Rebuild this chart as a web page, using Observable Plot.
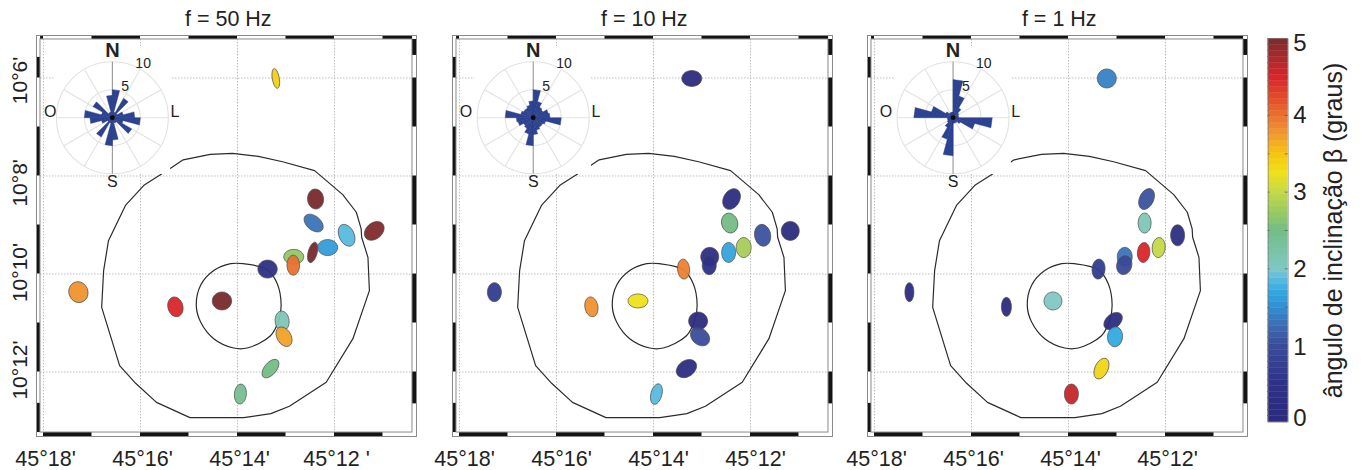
<!DOCTYPE html>
<html><head><meta charset="utf-8">
<script src="https://cdn.jsdelivr.net/npm/d3@7"></script>
<script src="https://cdn.jsdelivr.net/npm/@observablehq/plot@0.6"></script>
<style>
html,body{margin:0;padding:0;background:#fff}
#chart{position:relative;width:1363px;height:470px;overflow:hidden}
#chart svg{position:absolute;top:0;overflow:visible;background:transparent}
</style></head><body><div id="chart"></div>
<script>
// Stations: minutes of longitude W (45°xx') and latitude S (10°xx')
const stationLon=[13.21,12.39,12.43,11.75,11.18,12.45,12.14,12.84,12.85,13.38,13.08,13.04,13.32,13.94,14.32,15.28,17.28];
const stationLat=[6.01,8.47,8.96,9.21,9.12,9.56,9.46,9.65,9.82,9.90,10.96,11.28,11.93,12.45,10.55,10.67,10.37];

// Per-frequency results, same order as the stations
const beta50=[3.4,5,1.3,1.85,4.95,5,1.6,2.7,4.0,0.4,2.1,3.7,2.5,2.4,5,4.5,3.8];
const major50=[10,10,11,11.5,11,10.5,10,10,10,9.7,10,10.5,11,10,9.7,10,10.5];
const minor50=[3.5,8,7,7.5,8,4.5,8,7.5,6.3,9,7,7,6,6,9,7.5,9.5];
const azim50=[-10,-5,-50,-25,50,15,90,90,0,90,-5,-30,40,5,90,-15,-20];

const beta10=[0.1,0.2,2.5,1.05,0.1,1.65,2.8,0.25,0.5,3.9,0.15,1.0,0.2,1.85,3.25,3.8,0.7];
const major10=[10,11,10,11,9.5,10,10,9.5,9.5,10,9.5,10.5,11,10.5,10,10,9.5];
const minor10=[8,8,8,8,9,7,7.5,9,7,6,9,8,8,5.5,7,6.5,7];
const azim10=[90,30,-15,-10,0,0,0,0,0,-5,90,-50,55,15,90,-10,0];

const beta1=[1.4,1.05,2.1,0.3,null,4.5,3.0,1.3,0.95,0.7,0.1,1.7,3.35,4.6,2.0,0.15,0.1];
const major1=[9.5,11,10,10.5,10,10,10,9.5,9.5,10,10.5,10,11,10,9,9.5,9.5];
const minor1=[9.5,7,6.5,7,7,6.2,6.5,7.5,7.5,6.5,7,7.5,6.5,7,9,5,4.5];
const azim1=[0,25,0,0,0,5,5,0,15,5,50,5,25,0,0,0,0];

// Rose bins: start azimuth (15° wide), axial, mirrored at +180°
const roseAzimuth=[0,15,30,45,60,75,90,105,120,135,150,165];
const rose50=[5,1,4,1,2,4,5,2,4,1,1,4];
const rose10=[5,3,2.2,2,2.8,3,5,2.3,2,2,2.3,3];
const rose1=[6.8,4,2,1.2,1,1,7,4,1.5,1,1,1];

// Outlines of the structure (lon, lat in minutes)
const outerLon=[15.38,15.12,14.56,14.10,13.57,13.07,12.41,11.83,11.55,11.45,11.44,11.31,11.28,11.62,12.17,12.93,13.31,13.87,14.98,15.67,16.10,16.43,16.80,16.76,16.66,16.31,15.93,15.63,15.38];
const outerLat=[7.84,7.67,7.56,7.54,7.60,7.71,7.89,8.38,8.74,9.08,9.25,9.66,10.34,11.32,12.21,12.70,12.85,12.93,12.93,12.62,12.23,11.87,10.68,9.93,9.32,8.60,8.19,8.00,7.84];
const innerLon=[14.14,13.88,13.39,13.18,13.10,13.15,13.32,13.80,14.08,14.49,14.76,14.85,14.76,14.49];
const innerLat=[9.79,9.79,9.91,10.20,10.64,10.95,11.26,11.51,11.51,11.32,10.98,10.64,10.23,9.93];

// Map ticks and frame
const lonTicks=[18,16,14,12];
const latTicks=[6,8,10,12];
const latLabels=["10°6'","10°8'","10°10'","10°12'"];
const latLabelAt=[6.05,8.14,9.97,11.96];
const topBars=[[18.06,18],[17,16],[15,14],[13,12],[11,10.39]];
const bottomBars=[[18,17],[16,15],[14,13],[12,11]];
const leftBars=[[5.58,6],[7,8],[9,10],[11,12],[12.64,13.235]];
const rightBars=[[5.214,5.54],[6,7],[8,9],[10,11],[12,12.65]];

// Colour bar
const betaStops=[0,0.5,1,1.25,1.5,1.7,1.9,2,2.5,2.75,3,3.25,3.5,3.75,4,4.25,4.5,4.75,5];
const betaColors=["#2b2a7e","#2e3286","#3b4c9b","#3b6db2","#3290d2","#34a9e1","#66bfdd","#7fc8c2","#74bd85","#9ccb5e","#c5d947","#eee11a","#f6c40f","#f09a30","#e9712d","#e2492a","#d9252a","#a82a2c","#782a2d"];
const betaTicks=[0,1,2,3,4,5];
const betaTickAt=[0.05,0.98,2,3,4,4.94];

const panels=[
 {offset:0,title:"f = 50 Hz",beta:beta50,major:major50,minor:minor50,azim:azim50,rose:rose50,roseLon:16.58,westGap:-11.1,lastLabel:"45°12 '"},
 {offset:416,title:"f = 10 Hz",beta:beta10,major:major10,minor:minor10,azim:azim10,rose:rose10,roseLon:16.48,westGap:-12,lastLabel:"45°12'"},
 {offset:831,title:"f = 1 Hz",beta:beta1,major:major1,minor:minor1,azim:azim1,rose:rose1,roseLon:16.38,westGap:-12,lastLabel:"45°12'"}
];

const INK="#222", FONT="Liberation Sans, Arial, sans-serif";
const colorScale={type:"linear",domain:betaStops,range:betaColors};
const xDom=[18.144,10.309], yDom=[13.316,5.133];
const roseLat=6.81, uLon=5.6/48.5, uLat=5.6/49;

function ellipseSymbol(ratio){
  return {draw(c,size){
    const ry=Math.sqrt(size/Math.PI), rx=ry*ratio, k=0.5523;
    c.moveTo(rx,0);
    c.bezierCurveTo(rx,k*ry,k*rx,ry,0,ry);
    c.bezierCurveTo(-k*rx,ry,-rx,k*ry,-rx,0);
    c.bezierCurveTo(-rx,-k*ry,-k*rx,-ry,0,-ry);
    c.bezierCurveTo(k*rx,-ry,rx,-k*ry,rx,0);
    c.closePath();
  }};
}
const path=(lon,lat)=>lon.map((v,i)=>({lon:v,lat:lat[i]}));

function panelPlot(p,idx){
  const at=(az,len)=>({lon:p.roseLon-len*uLon*Math.sin(az*Math.PI/180),lat:roseLat-len*uLat*Math.cos(az*Math.PI/180)});
  const wedges=[];
  p.rose.forEach((v,i)=>[0,180].forEach(shift=>{
    const a=roseAzimuth[i]+shift,id=a;
    wedges.push({id,...at(a,0)},{id,...at(a,v)},{id,...at(a+15,v)},{id,...at(a,0)});
  }));
  const spokes=d3.range(0,360,30).filter(a=>a%180!==0).map(a=>({a,...at(a,10)}));
  const center=[{lon:p.roseLon,lat:roseLat}];
  const roseText=[
    {t:"N",...at(0,12),fs:20,w:"bold"},
    {t:"S",...at(180,11.5),fs:16,w:"normal"},
    {t:"O",lon:p.roseLon-p.westGap*uLon,lat:roseLat-1.1*uLat,fs:16,w:"normal"},
    {t:"L",lon:p.roseLon-11.2*uLon,lat:roseLat-1.1*uLat,fs:16,w:"normal"},
    {t:"10",lon:p.roseLon-5.5*uLon,lat:roseLat-9.6*uLat,fs:14,w:"normal"},
    {t:"5",lon:p.roseLon-2.3*uLon,lat:roseLat-5.6*uLat,fs:14,w:"normal"}
  ];
  const stations=stationLon.map((lon,i)=>({lon,lat:stationLat[i],beta:p.beta[i],major:p.major[i],minor:p.minor[i],az:p.azim[i]})).filter(d=>d.beta!=null);
  const marks=[
    Plot.ruleX(lonTicks,{x:d=>d,y1:5.214,y2:13.235,stroke:"#bdbdbd",strokeWidth:1,strokeDasharray:"1.5,1.5"}),
    Plot.ruleY(latTicks,{y:d=>d,x1:18.062,x2:10.392,stroke:"#bdbdbd",strokeWidth:1,strokeDasharray:"1.5,1.5"}),
    Plot.line(path(outerLon,outerLat),{x:"lon",y:"lat",stroke:"#2b2b2b",strokeWidth:1.2,curve:"linear"}),
    Plot.line(path(innerLon,innerLat),{x:"lon",y:"lat",stroke:"#2b2b2b",strokeWidth:1.2,curve:"catmull-rom-closed"}),
    // white box behind the rose
    Plot.rect(center,{x1:d=>d.lon+10.4*uLon,x2:d=>d.lon-10.4*uLon,y1:5.36,y2:7.97,fill:"#fff"}),
    Plot.dot(center,{x:"lon",y:"lat",r:56,stroke:"#e2e2e2",strokeWidth:1.1}),
    Plot.dot(center,{x:"lon",y:"lat",r:28,stroke:"#e2e2e2",strokeWidth:1.1}),
    Plot.link(spokes,{x1:()=>p.roseLon,y1:()=>roseLat,x2:"lon",y2:"lat",stroke:"#e2e2e2",strokeWidth:1.1}),
    Plot.link(center,{x1:"lon",x2:"lon",y1:d=>d.lat-10*uLat,y2:d=>d.lat+10*uLat,stroke:"#8c8c8c",strokeWidth:1}),
    Plot.line(wedges,{x:"lon",y:"lat",z:"id",fill:"#2c4393",stroke:"#22337a",strokeWidth:0.4,curve:"linear"}),
    Plot.dot(center,{x:"lon",y:"lat",r:2.4,fill:"#0a0a0a"})
  ];
  roseText.forEach(t=>marks.push(Plot.text([t],{x:"lon",y:"lat",text:"t",fontSize:t.fs,fontWeight:t.w,fill:INK,fontFamily:FONT})));
  stations.forEach(d=>marks.push(Plot.dot([d],{x:"lon",y:"lat",r:d.major,rotate:d.az,symbol:ellipseSymbol(d.minor/d.major),fill:"beta",fillOpacity:0.95,stroke:"#4a4a4a",strokeWidth:0.8,strokeOpacity:0.85})));
  marks.push(
    Plot.rect(topBars,{x1:d=>d[0],x2:d=>d[1],y1:5.133,y2:5.214,fill:"#141414"}),
    Plot.rect(bottomBars,{x1:d=>d[0],x2:d=>d[1],y1:13.235,y2:13.316,fill:"#141414"}),
    Plot.rect(leftBars,{y1:d=>d[0],y2:d=>d[1],x1:18.144,x2:18.062,fill:"#141414"}),
    Plot.rect(rightBars,{y1:d=>d[0],y2:d=>d[1],x1:10.392,x2:10.309,fill:"#141414"}),
    Plot.rect([0],{x1:18.062,x2:10.392,y1:5.214,y2:13.235,stroke:"#8a8a8a",strokeWidth:1}),
    Plot.frame({stroke:"#8a8a8a",strokeWidth:1}),
    Plot.axisX({ticks:lonTicks,anchor:"bottom",label:null,tickSize:0,tickPadding:14,fontSize:21.5,fill:INK,fontFamily:FONT,dx:idx==1?5:2,
      tickFormat:d=>d===12?p.lastLabel:`45°${d}'`}),
    Plot.text([p.title],{x:14.19,y:5.133-0.33,text:d=>d,fontSize:21.5,fill:INK,fontFamily:FONT})
  );
  if(idx===0) marks.push(Plot.text(latLabels,{x:18.474,y:(d,i)=>latLabelAt[i],text:d=>d,rotate:-90,fontSize:21,fill:INK,fontFamily:FONT}));
  const svg=Plot.plot({width:416,height:470,marginLeft:36,marginRight:0,marginTop:35,marginBottom:34,
    x:{domain:xDom},y:{domain:yDom,axis:null},color:colorScale,style:{background:"transparent",overflow:"visible"},marks});
  svg.style.left=p.offset+"px";
  return svg;
}

function colorbarPlot(){
  const n=64,levels=d3.range(n).map(i=>({lo:5*i/n,hi:5*(i+1)/n,mid:5*(i+.5)/n}));
  const half=d3.range(0.5,5,0.5);
  const svg=Plot.plot({width:113,height:470,marginLeft:17.7,marginRight:75.3,marginTop:38.3,marginBottom:48.3,
    x:{domain:[0,1],axis:null},y:{domain:[0,5],axis:null},color:colorScale,style:{background:"transparent",overflow:"visible"},
    marks:[
      Plot.rect(levels,{x1:0,x2:1,y1:"lo",y2:"hi",fill:"mid",stroke:"mid",strokeWidth:0.3}),
      Plot.ruleY(half,{x1:0.85,x2:1,stroke:"#555",strokeWidth:0.7}),
      Plot.ruleY(half,{x1:0,x2:0.1,stroke:"#555",strokeWidth:0.7}),
      Plot.frame({stroke:"#777",strokeWidth:0.5}),
      Plot.text(betaTicks,{x:1,dx:5,y:(d,i)=>betaTickAt[i],text:d=>String(d),textAnchor:"start",fontSize:24,fill:INK,fontFamily:FONT}),
      Plot.text(["ângulo de inclinação β (graus)"],{x:3.3,y:2.5,text:d=>d,rotate:-90,fontSize:25,fill:INK,fontFamily:FONT})
    ]});
  svg.style.left="1250px";
  return svg;
}

const root=document.getElementById("chart");
panels.forEach((p,i)=>root.appendChild(panelPlot(p,i)));
root.appendChild(colorbarPlot());
</script></body></html>
